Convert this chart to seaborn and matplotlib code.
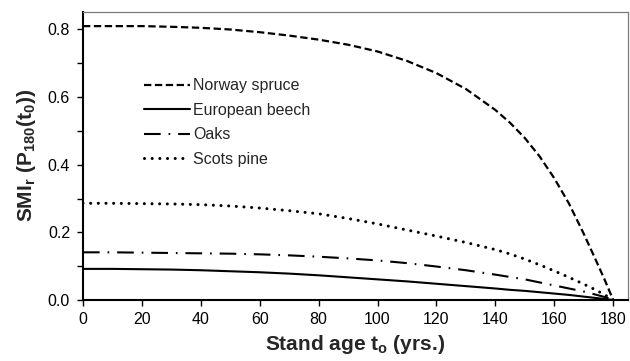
import matplotlib
matplotlib.use("Agg")
import matplotlib.pyplot as plt
import seaborn as sns
import pandas as pd
from matplotlib.ticker import MultipleLocator

# ---- data ----
age = [0, 10, 20, 30, 40, 50, 60, 70, 80, 90, 100, 110, 120, 130, 140, 145, 150, 155, 160, 165, 170,
       174, 177, 180]
norway_spruce = [0.81, 0.81, 0.81, 0.808, 0.805, 0.80, 0.792, 0.782, 0.77, 0.755, 0.735, 0.707, 0.671,
                 0.624, 0.562, 0.524, 0.479, 0.425, 0.36, 0.285, 0.196, 0.12, 0.062, 0.0]
european_beech = [0.092, 0.092, 0.091, 0.090, 0.088, 0.085, 0.082, 0.078, 0.073, 0.067, 0.061, 0.055,
                  0.048, 0.041, 0.034, 0.030, 0.027, 0.023, 0.019, 0.015, 0.010, 0.006, 0.003, 0.0]
oaks = [0.141, 0.141, 0.140, 0.139, 0.138, 0.137, 0.135, 0.132, 0.128, 0.123, 0.117, 0.109, 0.099,
        0.088, 0.075, 0.068, 0.061, 0.052, 0.043, 0.034, 0.025, 0.016, 0.009, 0.0]
scots_pine = [0.286, 0.286, 0.285, 0.284, 0.282, 0.278, 0.272, 0.264, 0.255, 0.241, 0.225, 0.207, 0.189,
              0.170, 0.149, 0.136, 0.121, 0.104, 0.086, 0.067, 0.047, 0.030, 0.016, 0.0]
series_names = ["Norway spruce", "European beech", "Oaks", "Scots pine"]
x_ticks = [0, 20, 40, 60, 80, 100, 120, 140, 160, 180]
y_ticks = [0.0, 0.2, 0.4, 0.6, 0.8]

sns.set_theme(style="ticks")
plt.rcParams["font.family"] = ["Liberation Sans", "DejaVu Sans"]
plt.rcParams["mathtext.fontset"] = "custom"
plt.rcParams["mathtext.rm"] = "Liberation Sans:bold"
plt.rcParams["mathtext.it"] = "Liberation Sans:bold"
plt.rcParams["mathtext.bf"] = "Liberation Sans:bold"

fig = plt.figure(figsize=(6.3, 3.61), dpi=100)
ax = fig.add_axes([0.1317, 0.169, 0.865, 0.798])

df = pd.DataFrame({"age": age, "Norway spruce": norway_spruce, "European beech": european_beech,
                   "Oaks": oaks, "Scots pine": scots_pine})

styles = {
    "Norway spruce": dict(linestyle=(0, (3.3, 1.6)), linewidth=1.6),
    "European beech": dict(linestyle="-", linewidth=1.5),
    "Oaks": dict(linestyle=(0, (8.0, 3.8, 0.8, 3.8)), linewidth=1.5),
    "Scots pine": dict(linestyle=(0, (0.01, 2.5)), linewidth=2.2, solid_capstyle="round",
                       dash_capstyle="round"),
}

for name in series_names:
    sns.lineplot(data=df, x="age", y=name, ax=ax, color="black", label=name, **styles[name])

ax.set_xlim(0, 185)
ax.set_ylim(0, 0.852)
ax.set_xticks(x_ticks)
ax.set_yticks(y_ticks)
ax.set_yticklabels([f"{v:.1f}" for v in y_ticks])
ax.yaxis.set_minor_locator(MultipleLocator(0.1))
ax.tick_params(axis="both", which="major", direction="out", length=4.3, width=1.0,
               labelsize=11.5, colors="black", pad=5)
ax.tick_params(axis="y", which="minor", direction="out", length=4.3, width=1.0, color="black")
ax.tick_params(axis="x", which="major", length=4)

for side in ["left", "bottom"]:
    ax.spines[side].set_color("black")
    ax.spines[side].set_linewidth(1.5)
for side in ["top", "right"]:
    ax.spines[side].set_visible(True)
    ax.spines[side].set_color("#7a7a7a")
    ax.spines[side].set_linewidth(0.9)

ax.set_xlabel("Stand age t$_\\mathregular{o}$ (yrs.)", fontsize=15, fontweight="bold", labelpad=4)
ax.set_ylabel("SMI$_\\mathregular{r}$ (P$_\\mathregular{180}$(t$_\\mathregular{0}$))", fontsize=15,
              fontweight="bold", labelpad=7)

leg = ax.legend(loc="upper left", bbox_to_anchor=(0.112, 0.770), frameon=False, fontsize=11.5,
                handlelength=2.88, handletextpad=0.2, labelspacing=0.6, borderpad=0, borderaxespad=0)

fig.savefig("out.png", dpi=100)
